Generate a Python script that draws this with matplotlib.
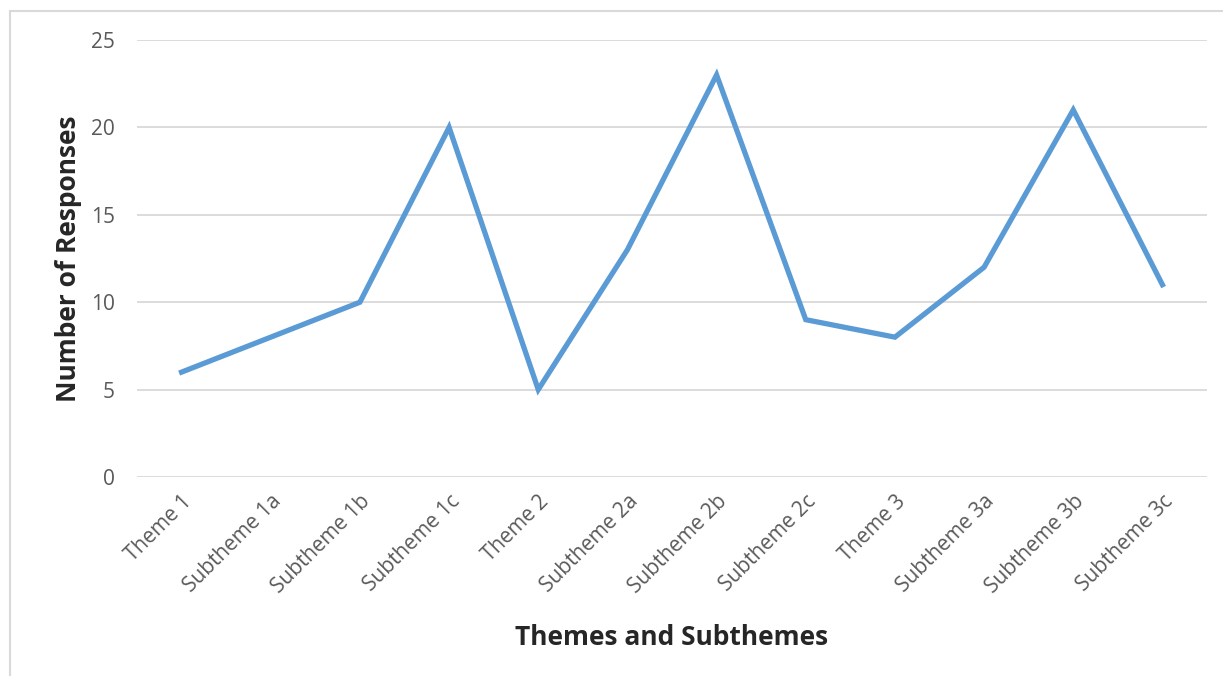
import matplotlib
matplotlib.use('Agg')
import matplotlib.pyplot as plt
from matplotlib.patches import Rectangle

categories = ['Theme 1', 'Subtheme 1a', 'Subtheme 1b', 'Subtheme 1c',
              'Theme 2', 'Subtheme 2a', 'Subtheme 2b', 'Subtheme 2c',
              'Theme 3', 'Subtheme 3a', 'Subtheme 3b', 'Subtheme 3c']
responses = [6, 8, 10, 20, 5, 13, 23, 9, 8, 12, 21, 11]
y_ticks = [0, 5, 10, 15, 20, 25]

plt.rcParams['font.family'] = ['Open Sans', 'DejaVu Sans']

W, H = 1223, 676
fig = plt.figure(figsize=(W / 100, H / 100), dpi=100)
ax = fig.add_axes([137 / W, 1 - 477 / H, (1207 - 137) / W, (477 - 40) / H])

# outer chart frame (cut off at right and bottom)
fig.patches.append(Rectangle((10 / W, -0.1), 1.2, 1 - 11 / H + 0.1,
                             transform=fig.transFigure, fill=False,
                             edgecolor='#D9D9D9', linewidth=1.5))

x = list(range(len(categories)))
ax.plot(x, responses, color='#5B9BD5', linewidth=3.8, solid_joinstyle='miter')

ax.set_xlim(-0.5, len(categories) - 0.5)
ax.set_ylim(0, 25)
ax.set_yticks(y_ticks)
ax.set_xticks(x)
ax.set_xticklabels(categories, rotation=45, ha='right', va='top',
                   rotation_mode='anchor')
ax.tick_params(axis='both', length=0, labelsize=15, labelcolor='#595959')
ax.tick_params(axis='y', pad=16)
ax.tick_params(axis='x', pad=10)
ax.grid(axis='y', color='#D9D9D9', linewidth=1.3)
ax.set_axisbelow(True)
for s in ax.spines.values():
    s.set_visible(False)

ax.set_ylabel('Number of Responses', fontsize=19, fontweight='bold',
              color='#262626', labelpad=6)
ax.set_xlabel('Themes and Subthemes', fontsize=19, fontweight='bold',
              color='#262626', labelpad=19)

fig.savefig('out.png', dpi=100)
